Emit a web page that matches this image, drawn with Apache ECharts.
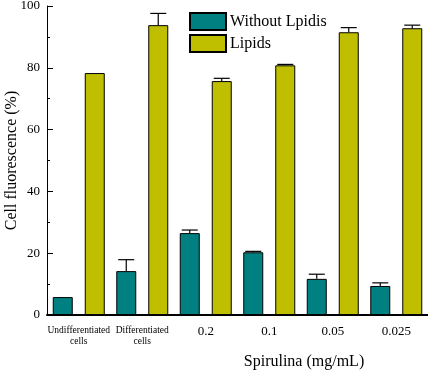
<!DOCTYPE html>
<html>
<head>
<meta charset="utf-8">
<script src="https://cdn.jsdelivr.net/npm/echarts@6/dist/echarts.min.js"></script>
<style>
html, body { margin: 0; padding: 0; background: #fff; }
#chart { width: 428px; height: 370px; }
</style>
</head>
<body>
<div id="chart"></div>
<script>
// data
const categories = ['Undifferentiated\ncells', 'Differentiated\ncells', '0.2', '0.1', '0.05', '0.025']
const withoutLipids = [5.8, 14.2, 26.5, 20.3, 11.7, 9.4]
const withoutLipidsErr = [0, 3.7, 1.0, 0.3, 1.5, 1.0]
const lipids = [78.3, 93.8, 75.7, 80.8, 91.5, 92.8]
const lipidsErr = [0, 3.8, 0.9, 0.3, 1.5, 1.0]
const yTicks = [0, 20, 40, 60, 80, 100]

const TEAL = '#008080'
const OLIVE = '#bfbf00'
const FONT = '"Liberation Serif", "DejaVu Serif", serif'
const BAR_W = 20
const BAR_GAP = 12

const myChart = echarts.init(document.getElementById('chart'))

// upward error bar with cap, shifted onto its bar
function errorBars (values, errs, side) {
    return {
        type: 'custom',
        silent: true,
        z: 5,
        data: values.map((v, i) => [i, v, v + errs[i]]),
        renderItem: function (params, api) {
            const i = api.value(0)
            if (errs[i] <= 0) return null
            const shift = side * (BAR_W + BAR_GAP) / 2
            const base = api.coord([i, api.value(1)])
            const top = api.coord([i, api.value(2)])
            const x = base[0] + shift
            const style = { stroke: '#000', lineWidth: 1.2 }
            return {
                type: 'group',
                children: [
                    { type: 'line', shape: { x1: x, y1: base[1], x2: x, y2: top[1] }, style: style },
                    { type: 'line', shape: { x1: x - 8, y1: top[1], x2: x + 8, y2: top[1] }, style: style }
                ]
            }
        }
    }
}

myChart.setOption({
    animation: false,
    textStyle: { fontFamily: FONT },
    grid: {
        left: 47,
        right: 0,
        top: 6,
        bottom: 55,
        outerBoundsMode: 'none'
    },
    legend: {
        orient: 'vertical',
        left: 189,
        top: 12,
        icon: 'rect',
        itemWidth: 36,
        itemHeight: 17,
        itemGap: 3,
        padding: 0,
        data: ['Without Lpidis', 'Lipids'],
        textStyle: { fontFamily: FONT, fontSize: 16, color: '#000', padding: [0, 0, 0, -1] }
    },
    xAxis: {
        type: 'category',
        data: categories,
        name: 'Spirulina (mg/mL)',
        nameLocation: 'middle',
        nameGap: 39,
        nameMoveOverlap: false,
        nameTextStyle: { fontFamily: FONT, fontSize: 16, color: '#000', padding: [0, 0, 0, 133] },
        axisLine: { lineStyle: { color: '#000', width: 2 } },
        axisTick: { show: false },
        axisLabel: {
            interval: 0,
            margin: 10,
            color: '#000',
            formatter: function (v) {
                return v.indexOf('cells') >= 0 ? '{s|' + v.replace('\n', '}\n{s|') + '}' : '{n|' + v + '}'
            },
            rich: {
                s: { fontFamily: FONT, fontSize: 9.5, lineHeight: 11, color: '#000' },
                n: { fontFamily: FONT, fontSize: 13, lineHeight: 14, color: '#000' }
            }
        }
    },
    yAxis: {
        type: 'value',
        min: yTicks[0],
        max: yTicks[yTicks.length - 1],
        interval: 20,
        name: 'Cell fluorescence (%)',
        nameLocation: 'middle',
        nameGap: 27,
        nameMoveOverlap: false,
        nameTextStyle: { fontFamily: FONT, fontSize: 16, color: '#000' },
        axisLine: { show: true, lineStyle: { color: '#000', width: 1 } },
        axisTick: { show: true, inside: true, length: 6, lineStyle: { color: '#000' } },
        minorTick: { show: true, splitNumber: 2, length: 3, lineStyle: { color: '#000' } },
        splitLine: { show: false },
        axisLabel: { color: '#000', fontFamily: FONT, fontSize: 13, margin: 7 }
    },
    series: [{
        name: 'Without Lpidis',
        type: 'bar',
        barWidth: BAR_W,
        barGap: (BAR_GAP / BAR_W * 100) + '%',
        data: withoutLipids,
        itemStyle: { color: TEAL, borderColor: '#000', borderWidth: 1 }
    }, {
        name: 'Lipids',
        type: 'bar',
        barWidth: BAR_W,
        data: lipids,
        itemStyle: { color: OLIVE, borderColor: '#000', borderWidth: 1 }
    },
    errorBars(withoutLipids, withoutLipidsErr, -1),
    errorBars(lipids, lipidsErr, 1)]
})
</script>
</body>
</html>
